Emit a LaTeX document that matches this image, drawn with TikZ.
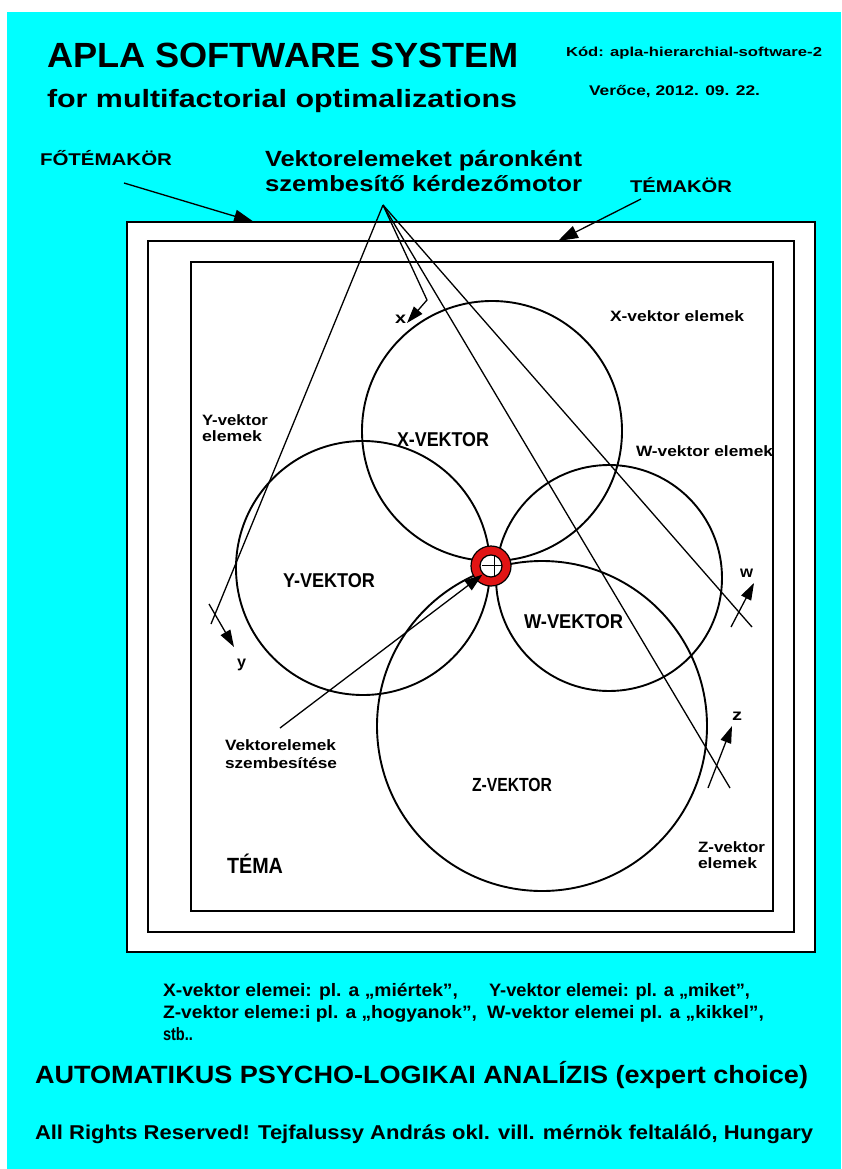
\documentclass[tikz,border=0pt]{standalone}
\usepackage{fontspec}
\setmainfont{Liberation Sans}
\usepackage{graphicx}
\usetikzlibrary{arrows.meta}
\definecolor{bgcyan}{RGB}{0,255,255}
\definecolor{ringred}{RGB}{225,20,20}
\newcommand\tw[3]{\resizebox{#1pt}{\height}{\fontsize{#2}{#2}\selectfont\bfseries #3}}
\begin{document}
\begin{tikzpicture}[x=1pt,y=-1pt,
  lbl/.style={anchor=base west, inner sep=0pt, outer sep=0pt},
  frame/.style={draw=black, line width=1.8pt},
  vcirc/.style={draw=black, line width=1.9pt, circle, inner sep=0pt},
  ln/.style={draw=black, line width=1.3pt},
  arr/.style={draw=black, line width=1.3pt, -{Triangle[length=17pt,width=11pt]}},
]
\useasboundingbox (0,0) rectangle (841,1169);
\fill[white] (0,0) rectangle (841,1169);
\fill[bgcyan] (7,12) rectangle (841,1169);

% frames
\draw[frame, fill=white] (127,222) rectangle (815,952);
\draw[frame, line width=2.2pt] (148,241) rectangle (794,932);
\draw[frame] (191,262) rectangle (773,911);
\coordinate (outerTop) at (254,222);
\coordinate (midTop) at (558,241);

% header texts
\node[lbl] (title) at (47,68) {\tw{472}{35}{APLA SOFTWARE SYSTEM}};
\node[lbl] (subtitle) at (47,108) {\tw{470}{25}{for multifactorial optimalizations}};
\node[lbl] (kod) at (566,57) {\tw{256}{13}{Kód: apla-hierarchial-software-2}};
\node[lbl] (date) at (589,96) {\tw{171}{14}{Verőce, 2012. 09. 22.}};

\node[lbl] (fotema) at (40,166) {\tw{132}{17}{FŐTÉMAKÖR}};
\node[lbl] (temakor) at (630,193) {\tw{102}{17}{TÉMAKÖR}};
\node[lbl] (eng1) at (265,167) {\tw{317}{22}{Vektorelemeket páronként}};
\node[lbl] (eng2) at (265,192) {\tw{317}{22}{szembesítő kérdezőmotor}};

\coordinate (fotStart) at (124,183);
\coordinate (temStart) at (641,199);
\draw[arr, -{Triangle[length=20pt,width=13pt]}] (fotStart) -- (outerTop);
\draw[arr, -{Triangle[length=20pt,width=13pt]}] (temStart) -- (midTop);

% circles
\node[vcirc, minimum size=260pt] (X) at (492,431) {};
\node[vcirc, minimum size=254pt] (Y) at (363,568) {};
\node[vcirc, minimum size=226pt] (W) at (609,578) {};
\node[vcirc, minimum size=330pt] (Z) at (542,726) {};

% engine lines
\coordinate (E) at (383,205);
\coordinate (xb) at (427,300);
\coordinate (xt) at (407,323);
\coordinate (ye) at (211,624);
\coordinate (ys) at (209,604);
\coordinate (yt) at (234,647);
\coordinate (we) at (752,627);
\coordinate (ws) at (731,627);
\coordinate (wt) at (754,583);
\coordinate (ze) at (730,788);
\coordinate (zs) at (708,788);
\coordinate (zt) at (732,726);

\draw[ln] (E) -- (ye);
\draw[arr] (ys) -- (yt);
\draw[arr] (E) -- (xb) -- (xt);
\draw[ln] (E) -- (we);
\draw[arr] (ws) -- (wt);
\draw[ln] (E) -- (ze);
\draw[arr] (zs) -- (zt);

% ring
\fill[white] (491,566) circle[radius=11pt];
\fill[ringred, even odd rule] (491,566) circle[radius=20pt] circle[radius=11pt];
\draw[line width=1.2pt] (491,566) circle[radius=20pt];
\draw[line width=1.2pt] (491,566) circle[radius=11pt];
\node[inner sep=0pt, minimum size=24pt, circle] (ring) at (491,566) {};
\draw[line width=1pt] (494,556) -- (494,576);
\draw[line width=1pt] (482,565) -- (502,565);

\coordinate (vs) at (280,728);
\draw[arr, -{Triangle[length=18pt,width=12pt]}] (vs) -- (ring.south west);

% small arrow labels
\node[lbl] (lx) at (395,323) {\tw{11}{16}{x}};
\node[lbl] (ly) at (237,667) {\tw{9}{16}{y}};
\node[lbl] (lw) at (740,577) {\tw{13}{16}{w}};
\node[lbl] (lz) at (732,720) {\tw{10}{16}{z}};

% vector labels
\node[lbl] (Xl) at (397,446) {\tw{92}{20}{X-VEKTOR}};
\node[lbl] (Yl) at (283,587) {\tw{92}{20}{Y-VEKTOR}};
\node[lbl] (Wl) at (524,628) {\tw{99}{20}{W-VEKTOR}};
\node[lbl] (Zl) at (472,791) {\tw{80}{19}{Z-VEKTOR}};
\node[lbl] (tema) at (227,873) {\tw{56}{22}{TÉMA}};

\node[lbl] (xel) at (610,321) {\tw{134}{15}{X-vektor elemek}};
\node[lbl] (wel) at (636,456) {\tw{137}{15}{W-vektor elemek}};
\node[lbl] (yel1) at (202,425) {\tw{66}{15}{Y-vektor}};
\node[lbl] (yel2) at (202,441) {\tw{60}{15}{elemek}};
\node[lbl] (zel1) at (698,852) {\tw{67}{15}{Z-vektor}};
\node[lbl] (zel2) at (698,868) {\tw{59}{15}{elemek}};
\node[lbl] (vsz1) at (225,750) {\tw{111}{15}{Vektorelemek}};
\node[lbl] (vsz2) at (225,768) {\tw{112}{15}{szembesítése}};

% legend
\node[lbl] (lg1a) at (163,996) {\tw{295}{18}{X-vektor elemei: pl. a „miértek”,}};
\node[lbl] (lg1b) at (489,996) {\tw{261}{18}{Y-vektor elemei: pl. a „miket”,}};
\node[lbl] (lg2a) at (163,1018) {\tw{314}{18}{Z-vektor eleme:i pl. a „hogyanok”,}};
\node[lbl] (lg2b) at (487,1018) {\tw{277}{18}{W-vektor elemei pl. a „kikkel”,}};
\node[lbl] (lg3) at (163,1040) {\tw{30}{18}{stb..}};

\node[lbl] (auto) at (35,1083) {\tw{773}{25}{AUTOMATIKUS PSYCHO-LOGIKAI ANALÍZIS (expert choice)}};
\node[lbl] (rights) at (35,1139) {\tw{778}{20}{All Rights Reserved! Tejfalussy András okl. vill. mérnök feltaláló, Hungary}};
\end{tikzpicture}
\end{document}
